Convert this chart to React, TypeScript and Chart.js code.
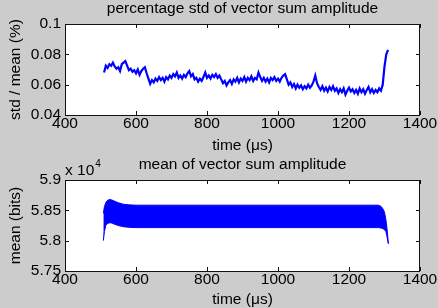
import React, { useEffect, useRef } from 'react';
import { Chart, registerables } from 'chart.js';

Chart.register(...registerables);

// ---------- data ----------
const xTicks = [400, 600, 800, 1000, 1200, 1400];
const stdYTicks = [0.04, 0.06, 0.08, 0.1];
const meanYTicks = [57500, 58000, 58500, 59000];

const stdStartTime = 510;
const stdTimeStep = 5;
const stdValues = [
  0.068, 0.0725, 0.071, 0.0735, 0.0725, 0.0745, 0.072, 0.0705, 0.0715, 0.069,
  0.0735, 0.0745, 0.0755, 0.0725, 0.0695, 0.0705, 0.0685, 0.0695, 0.0675, 0.07,
  0.0665, 0.069, 0.0705, 0.0715, 0.0675, 0.064, 0.0605, 0.063, 0.0615, 0.064,
  0.0625, 0.065, 0.063, 0.0645, 0.062, 0.065, 0.0635, 0.066, 0.0645, 0.067,
  0.0655, 0.068, 0.0645, 0.066, 0.064, 0.0665, 0.065, 0.0675, 0.069, 0.0655,
  0.067, 0.0635, 0.0645, 0.062, 0.064, 0.0625, 0.065, 0.068, 0.0645, 0.066,
  0.064, 0.0665, 0.065, 0.067, 0.0645, 0.066, 0.0635, 0.061, 0.0625, 0.0595,
  0.0615, 0.063, 0.0605, 0.0635, 0.062, 0.0645, 0.0615, 0.064, 0.0625, 0.065,
  0.062, 0.0645, 0.063, 0.0655, 0.0625, 0.0645, 0.0635, 0.068, 0.065, 0.0625,
  0.0645, 0.062, 0.064, 0.0615, 0.0645, 0.063, 0.065, 0.0625, 0.064, 0.062,
  0.0645, 0.066, 0.067, 0.0635, 0.06, 0.0615, 0.0585, 0.0605, 0.0575, 0.06,
  0.058, 0.0595, 0.057, 0.059, 0.0575, 0.06, 0.058, 0.0595, 0.062, 0.066,
  0.061, 0.0585, 0.0565, 0.059, 0.056, 0.058, 0.0555, 0.0585, 0.0565, 0.059,
  0.056, 0.0575, 0.0545, 0.057, 0.055, 0.0575, 0.0535, 0.056, 0.058, 0.0555,
  0.057, 0.0545, 0.0565, 0.054, 0.0575, 0.055, 0.057, 0.054, 0.0565, 0.0585,
  0.055, 0.057, 0.0545, 0.0565, 0.055, 0.0575, 0.056, 0.06, 0.072, 0.08,
  0.083,
];

const bandTimes = [508, 511, 515, 520, 526, 532, 540, 550, 565, 580, 600, 800, 1000, 1200, 1282, 1289, 1295, 1300, 1304, 1307, 1309, 1311];
const bandUpper = [58450, 58560, 58630, 58665, 58680, 58670, 58650, 58625, 58600, 58590, 58585, 58585, 58585, 58585, 58585, 58570, 58530, 58470, 58340, 58200, 58080, 57950];
const bandLower = [58000, 58150, 58250, 58285, 58295, 58290, 58270, 58250, 58230, 58220, 58215, 58215, 58215, 58215, 58215, 58210, 58200, 58180, 58150, 58070, 58000, 57950];

// ---------- style ----------
const FONT_FAMILY = "'Liberation Sans', Arial, Helvetica, sans-serif";
const FONT_SIZE = 15.5;
const BG = '#cccccc';
const BLUE = '#0000ff';
const font = { family: FONT_FAMILY, size: FONT_SIZE, lineHeight: 1.1 };

function framePlugin(title: string, exponent: boolean, xT: number[], yT: number[]) {
  return {
    id: 'matlabFrame',
    beforeDraw(chart: any) {
      const { ctx, chartArea: a } = chart;
      ctx.save();
      ctx.fillStyle = BG;
      ctx.fillRect(0, 0, chart.width, chart.height);
      ctx.fillStyle = '#ffffff';
      ctx.fillRect(a.left, a.top, a.right - a.left, a.bottom - a.top);
      ctx.restore();
    },
    afterDatasetsDraw(chart: any) {
      const { ctx, chartArea: a, scales } = chart;
      ctx.save();
      ctx.strokeStyle = '#111111';
      ctx.lineWidth = 1;
      ctx.beginPath();
      const tl = 4;
      xT.forEach((v) => {
        const px = Math.round(scales.x.getPixelForValue(v)) + 0.5;
        ctx.moveTo(px, a.bottom);
        ctx.lineTo(px, a.bottom - tl);
        ctx.moveTo(px, a.top);
        ctx.lineTo(px, a.top + tl);
      });
      yT.forEach((v) => {
        const py = Math.round(scales.y.getPixelForValue(v)) + 0.5;
        ctx.moveTo(a.left, py);
        ctx.lineTo(a.left + tl, py);
        ctx.moveTo(a.right, py);
        ctx.lineTo(a.right - tl, py);
      });
      ctx.stroke();
      ctx.strokeRect(a.left + 0.5, a.top + 0.5, a.right - a.left - 1, a.bottom - a.top);
      ctx.restore();
    },
    afterDraw(chart: any) {
      const { ctx, chartArea: a } = chart;
      ctx.save();
      ctx.fillStyle = '#000000';
      ctx.font = `${FONT_SIZE}px ${FONT_FAMILY}`;
      ctx.textAlign = 'center';
      ctx.textBaseline = 'alphabetic';
      ctx.fillText(title, (a.left + a.right) / 2, a.top - 11);
      if (exponent) {
        ctx.textAlign = 'left';
        ctx.fillText('x 10', a.left, a.top - 5.5);
        const w = ctx.measureText('x 10').width;
        ctx.font = `10px ${FONT_FAMILY}`;
        ctx.fillText('4', a.left + w + 1, a.top - 13);
      }
      ctx.restore();
    },
  };
}

function makeOptions(opts: {
  padTop: number;
  xHeight: number;
  yMin: number;
  yMax: number;
  yT: number[];
  yTitle: string;
  yFormat: (v: number) => string;
}) {
  return {
    responsive: false,
    animation: false as const,
    devicePixelRatio: 1,
    layout: { padding: { left: 0, right: 18, top: opts.padTop, bottom: 0 } },
    plugins: {
      legend: { display: false },
      tooltip: { enabled: false },
      title: { display: false },
    },
    elements: { point: { radius: 0 } },
    scales: {
      x: {
        type: 'linear' as const,
        min: 400,
        max: 1400,
        grid: { display: false, drawTicks: false },
        border: { display: false },
        ticks: { padding: 0, font, color: '#000000', maxRotation: 0, autoSkip: false, callback: (v: any) => String(v) },
        afterBuildTicks: (s: any) => {
          s.ticks = xTicks.map((v) => ({ value: v }));
        },
        afterFit: (s: any) => {
          s.height = opts.xHeight;
          s.paddingLeft = 0;
          s.paddingRight = 0;
        },
        title: { display: true, text: 'time (μs)', font, color: '#000000', padding: { top: 0, bottom: 0 } },
      },
      y: {
        type: 'linear' as const,
        min: opts.yMin,
        max: opts.yMax,
        grid: { display: false, drawTicks: false },
        border: { display: false },
        ticks: { padding: 4, font, color: '#000000', autoSkip: false, callback: (v: any) => opts.yFormat(Number(v)) },
        afterBuildTicks: (s: any) => {
          s.ticks = opts.yT.map((v) => ({ value: v }));
        },
        afterFit: (s: any) => {
          s.width = 65;
          s.paddingTop = 0;
          s.paddingBottom = 0;
        },
        title: { display: true, text: opts.yTitle, font, color: '#000000', padding: { top: 7, bottom: 0 } },
      },
    },
  };
}

export default function App() {
  const topRef = useRef<HTMLCanvasElement | null>(null);
  const botRef = useRef<HTMLCanvasElement | null>(null);

  useEffect(() => {
    const stdPoints = stdValues.map((v, i) => ({ x: stdStartTime + stdTimeStep * i, y: v }));
    const top = new Chart(topRef.current as HTMLCanvasElement, {
      type: 'line',
      data: {
        datasets: [
          {
            data: stdPoints,
            borderColor: BLUE,
            borderWidth: 2.2,
            pointRadius: 0,
            tension: 0,
            fill: false,
          },
        ],
      },
      options: makeOptions({
        padTop: 24,
        xHeight: 39,
        yMin: 0.04,
        yMax: 0.1,
        yT: stdYTicks,
        yTitle: 'std / mean (%)',
        yFormat: (v) => String(Number(v.toFixed(2))),
      }) as any,
      plugins: [framePlugin('percentage std of vector sum amplitude', false, xTicks, stdYTicks)],
    });

    const upper = bandTimes.map((t, i) => ({ x: t, y: bandUpper[i] }));
    const lower = bandTimes.map((t, i) => ({ x: t, y: bandLower[i] }));
    const bottom = new Chart(botRef.current as HTMLCanvasElement, {
      type: 'line',
      data: {
        datasets: [
          {
            data: upper,
            borderColor: BLUE,
            backgroundColor: BLUE,
            borderWidth: 1,
            pointRadius: 0,
            tension: 0,
            fill: '+1',
          },
          {
            data: lower,
            borderColor: BLUE,
            backgroundColor: BLUE,
            borderWidth: 1,
            pointRadius: 0,
            tension: 0,
            fill: false,
          },
        ],
      },
      options: makeOptions({
        padTop: 26,
        xHeight: 37,
        yMin: 57500,
        yMax: 59000,
        yT: meanYTicks,
        yTitle: 'mean (bits)',
        yFormat: (v) => String(Number((v / 10000).toFixed(2))),
      }) as any,
      plugins: [framePlugin('mean of vector sum amplitude', true, xTicks, meanYTicks)],
    });

    return () => {
      top.destroy();
      bottom.destroy();
    };
  }, []);

  return (
    <div style={{ position: 'absolute', left: 0, top: 0, width: 438, height: 308, background: BG }}>
      <canvas ref={topRef} width={438} height={154} style={{ position: 'absolute', left: 0, top: 0, display: 'block' }} />
      <canvas ref={botRef} width={438} height={154} style={{ position: 'absolute', left: 0, top: 154, display: 'block' }} />
    </div>
  );
}
